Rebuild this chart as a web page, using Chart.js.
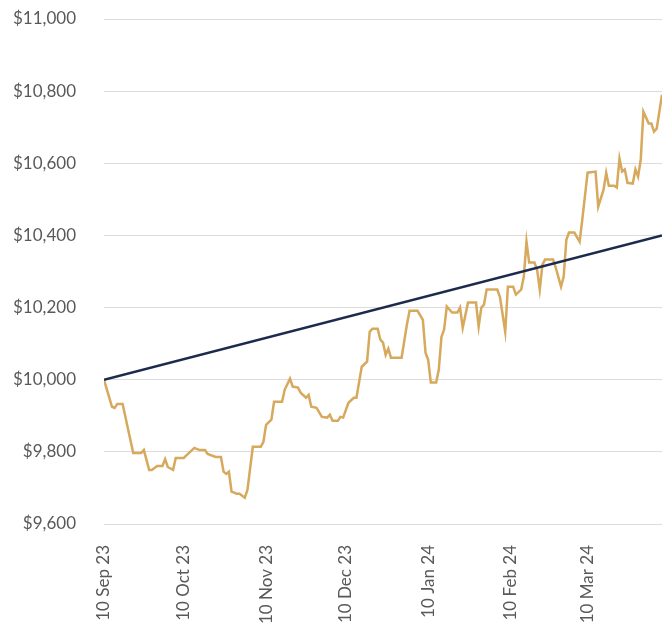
<!DOCTYPE html>
<html>
<head>
<meta charset="utf-8">
<script src="https://cdn.jsdelivr.net/npm/chart.js@4.4.1/dist/chart.umd.min.js"></script>
<style>
    body { margin: 0; background: #fff; }
    #wrap { width: 668px; height: 630px; }
</style>
</head>
<body>
<div id="wrap"><canvas id="growth-chart" width="668" height="630"></canvas></div>
<script>
// days since 10 Sep 23, and the portfolio value on that day
const portfolioDays = [
    0, 3, 4, 5, 7, 11, 14, 15, 17, 18, 20, 22, 23, 24, 26, 27, 30, 31, 34,
    36, 38, 39, 42, 44, 45, 46, 47, 48, 50, 51, 53, 54, 56, 59, 60, 61, 63, 64, 67, 68, 70,
    71, 73, 74, 76, 77, 78, 80, 82, 84, 85, 86, 88, 89, 90, 92, 94, 95, 97, 99, 100, 101, 103,
    104, 105, 106, 107, 108, 112, 114, 115, 118, 120, 121, 122, 123, 125, 126, 127, 128, 129, 131, 133, 134, 135,
    137, 140, 141, 142, 143, 144, 148, 149, 151, 152, 154, 155, 157, 158, 159, 160, 162, 163, 164, 165, 166, 169, 170,
    172, 173, 174, 175, 177, 179, 180, 182, 185, 186, 188, 189, 190, 192, 193, 194, 195, 196, 197, 199, 200, 201, 202,
    203, 205, 206, 207, 208, 210
];
const portfolioValues = [
    10000, 9925, 9922, 9933, 9933, 9797, 9797, 9805, 9750, 9750, 9761, 9761, 9780, 9758, 9750, 9783, 9783, 9790, 9811,
    9805, 9805, 9794, 9786, 9786, 9745, 9739, 9745, 9690, 9684, 9684, 9673, 9695, 9814, 9814, 9828, 9875, 9889, 9939, 9939, 9972, 10003,
    9981, 9978, 9964, 9950, 9958, 9925, 9922, 9897, 9895, 9903, 9886, 9886, 9897, 9895, 9936, 9950, 9950, 10036, 10050, 10133, 10141, 10141,
    10111, 10103, 10069, 10086, 10061, 10061, 10153, 10191, 10191, 10166, 10075, 10055, 9992, 9992, 10028, 10119, 10139, 10203, 10186, 10186, 10200, 10144,
    10214, 10214, 10147, 10200, 10208, 10250, 10250, 10230, 10133, 10258, 10258, 10236, 10250, 10286, 10383, 10325, 10325, 10305, 10250, 10319, 10333, 10333, 10311,
    10258, 10286, 10388, 10408, 10408, 10383, 10444, 10574, 10577, 10480, 10527, 10574, 10538, 10538, 10533, 10613, 10577, 10583, 10546, 10544, 10583, 10563, 10610,
    10743, 10710, 10710, 10688, 10696, 10790
];

const benchmarkDays = [0, 210];
const benchmarkValues = [10000, 10400];

const tickDays = [0, 30, 61, 91, 122, 153, 182];
const tickLabels = ['10 Sep 23', '10 Oct 23', '10 Nov 23', '10 Dec 23', '10 Jan 24', '10 Feb 24', '10 Mar 24'];

function toPoints(days, values) {
    return days.map((d, i) => ({ x: d, y: values[i] }));
}

function formatDollars(v) {
    return '$' + v.toLocaleString('en-US');
}

Chart.defaults.font.family = 'Lato, "Open Sans", sans-serif';
Chart.defaults.font.size = 17;
Chart.defaults.color = '#595959';

const ctx = document.getElementById('growth-chart').getContext('2d');
new Chart(ctx, {
    type: 'line',
    data: {
        datasets: [
            {
                label: 'Benchmark',
                data: toPoints(benchmarkDays, benchmarkValues),
                borderColor: '#1c2a4d',
                borderWidth: 2.5,
                pointRadius: 0,
                order: 0
            },
            {
                label: 'Portfolio',
                data: toPoints(portfolioDays, portfolioValues),
                borderColor: '#d6a95c',
                borderWidth: 2.5,
                pointRadius: 0,
                tension: 0,
                order: 1
            }
        ]
    },
    options: {
        responsive: false,
        animation: false,
        layout: { padding: { top: 19, right: 6, left: 0, bottom: 0 } },
        plugins: {
            legend: { display: false },
            tooltip: { enabled: false }
        },
        scales: {
            x: {
                type: 'linear',
                min: 0,
                max: 210,
                grid: { display: false },
                border: { display: false },
                afterBuildTicks: (scale) => {
                    scale.ticks = tickDays.map(v => ({ value: v }));
                },
                afterFit: (scale) => {
                    scale.paddingLeft = 0;
                    scale.paddingRight = 0;
                    scale.height = 106;
                },
                ticks: {
                    autoSkip: false,
                    minRotation: 90,
                    maxRotation: 90,
                    padding: 13,
                    callback: (value) => tickLabels[tickDays.indexOf(value)]
                }
            },
            y: {
                min: 9600,
                max: 11000,
                border: { display: false },
                grid: { color: '#dcdcdc', lineWidth: 1, drawTicks: false },
                afterFit: (scale) => {
                    scale.paddingTop = 0;
                    scale.paddingBottom = 0;
                    scale.width = 104;
                },
                ticks: {
                    stepSize: 200,
                    padding: 28,
                    callback: (value) => formatDollars(value)
                }
            }
        }
    }
});
</script>
</body>
</html>
